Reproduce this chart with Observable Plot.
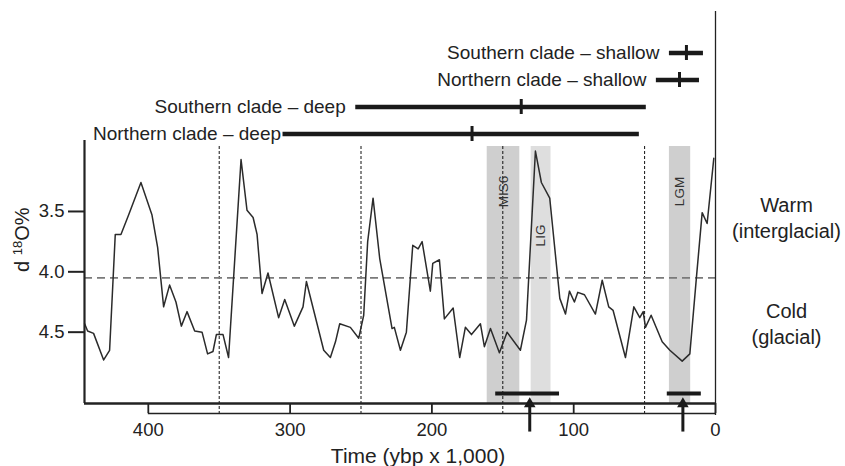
<!DOCTYPE html>
<html><head><meta charset="utf-8">
<script src="https://cdn.jsdelivr.net/npm/d3@7"></script>
<script src="https://cdn.jsdelivr.net/npm/@observablehq/plot@0.6"></script>
<style>
body{margin:0;background:#fff;}
#chart svg{display:block;}
</style></head><body><div id="chart"></div>
<script>
// d18O record (time in ka, value in per mil)
const time = [444.9,442.8,438.6,431.5,427.3,423.3,419.3,413.9,405.2,397.4,393.4,389.2,385.0,380.5,376.7,372.7,367.3,362.1,358.2,354.4,352.0,347.3,343.4,334.6,330.4,326.1,323.3,319.8,315.6,308.1,303.8,297.0,290.9,288.5,276.3,271.6,268.0,265.0,257.5,251.6,248.1,245.3,241.5,236.8,228.1,226.5,222.2,218.0,213.5,209.7,206.9,201.1,199.4,194.7,191.2,185.0,180.4,176.4,172.1,165.8,163.0,158.7,152.4,147.0,137.6,133.3,127.0,122.8,116.9,109.8,105.8,103.0,99.5,97.1,92.4,84.7,79.9,75.3,72.2,63.5,57.6,53.4,51.0,49.4,45.4,37.6,32.2,23.5,18.1,13.4,9.4,5.9,1.2];
const d18O = [4.43,4.49,4.51,4.73,4.65,3.69,3.69,3.53,3.26,3.53,3.80,4.29,4.11,4.25,4.45,4.33,4.49,4.50,4.68,4.66,4.52,4.52,4.71,3.07,3.49,3.55,3.69,4.18,4.01,4.38,4.23,4.45,4.29,4.08,4.65,4.71,4.58,4.43,4.46,4.55,4.36,3.75,3.39,3.89,4.47,4.46,4.65,4.50,3.78,3.81,3.75,4.16,3.93,3.90,4.39,4.30,4.71,4.46,4.52,4.43,4.62,4.47,4.67,4.50,4.65,4.40,3.00,3.26,3.39,4.22,4.35,4.16,4.25,4.17,4.19,4.35,4.07,4.29,4.32,4.71,4.29,4.38,4.33,4.46,4.36,4.58,4.65,4.74,4.68,4.04,3.51,3.60,3.06];

// clade divergence estimates
const cladeNames = ["Southern clade – shallow","Northern clade – shallow","Southern clade – deep","Northern clade – deep"];
const cladeOldest = [32.5, 41.7, 253.7, 305];
const cladeYoungest = [8.5, 11.3, 48.8, 53.7];
const cladeMean = [20.5, 25.4, 137, 171.7];

// shaded periods
const bandNames = ["MIS6","LIG","LGM"];
const bandStart = [161, 130, 32.5];
const bandEnd = [138, 116, 17.5];

// expansion estimates (bars with arrows at the bottom)
const expOldest = [155, 34];
const expYoungest = [110, 10];
const expPeak = [131, 23];

const xTicks = [400,300,200,100,0];
const yTicks = [3.5,4.0,4.5];
const dashedTimes = [350,250,150,50];
const threshold = 4.05;

const FONT = "'Liberation Sans', Arial, Helvetica, sans-serif";
const W = 845, ML = 84, MR = 130;
const xDomain = [445, 0];
const yDomain = [2.912, 5.091];
const INK = "#222";

const clades = cladeNames.map((name,i)=>({name, lo: cladeOldest[i], hi: cladeYoungest[i], mid: cladeMean[i]}));
const curve = time.map((t,i)=>({t, v: d18O[i]}));
const bands = bandNames.map((name,i)=>({name, x1: bandStart[i], x2: bandEnd[i], xm: (bandStart[i]+bandEnd[i])/2}));
const exps = expOldest.map((lo,i)=>({lo, hi: expYoungest[i], peak: expPeak[i]}));

const topPlot = Plot.plot({
  width: W, height: 140, marginLeft: ML, marginRight: MR, marginTop: 11, marginBottom: 0,
  style: {fontFamily: FONT, background: "white", color: INK, overflow: "visible"},
  x: {domain: xDomain, axis: null},
  y: {type: "band", domain: cladeNames, range: [38.5, 146.5], padding: 0, axis: null},
  marks: [
    Plot.ruleX([0], {stroke: INK, strokeWidth: 1.3, y1: null, y2: null}),
    Plot.ruleY(clades, {y: "name", x1: "lo", x2: "hi", stroke: "#1a1a1a", strokeWidth: 4.5}),
    Plot.tickX(clades, {x: "mid", y: "name", stroke: "#1a1a1a", strokeWidth: 3, insetTop: 6, insetBottom: 6}),
    Plot.text(clades.filter(d => d.name !== "Northern clade – deep"), {x: "lo", y: "name", text: "name", textAnchor: "end", dx: -10, fontSize: 19, fill: INK}),
    Plot.text(clades.filter(d => d.name === "Northern clade – deep"), {x: "lo", y: "name", text: "name", textAnchor: "end", dx: -2, fontSize: 19, fill: INK})
  ]
});

const yB = yDomain[1];
const mainPlot = Plot.plot({
  width: W, height: 326, marginLeft: ML, marginRight: MR, marginTop: 0, marginBottom: 63,
  style: {fontFamily: FONT, background: "white", color: INK, overflow: "visible"},
  x: {domain: xDomain},
  y: {domain: yDomain, reverse: true},
  marks: [
    Plot.rect(bands.filter(d => d.name !== "LIG"), {x1: "x1", x2: "x2", fill: "#cfcfcf", insetTop: 6}),
    Plot.rect(bands.filter(d => d.name === "LIG"), {x1: "x1", x2: "x2", fill: "#dedede", insetTop: 6}),
    Plot.ruleX(dashedTimes, {stroke: "#111", strokeWidth: 1, strokeDasharray: "3,2", insetTop: 6, insetBottom: -10}),
    Plot.ruleY([threshold], {stroke: "#7a7a7a", strokeWidth: 1.8, strokeDasharray: "8,5"}),
    Plot.line(curve, {x: "t", y: "v", stroke: "#2b2b2b", strokeWidth: 1.5}),
    Plot.text(bands.filter(d => d.name !== "LIG"), {x: "xm", text: "name", rotate: -90, frameAnchor: "top", lineAnchor: "middle", dy: 51, fontSize: 13.5, fill: "#333"}),
    Plot.text(bands.filter(d => d.name === "LIG"), {x: "xm", text: "name", rotate: -90, frameAnchor: "top", lineAnchor: "middle", dy: 95, fontSize: 13.5, fill: "#333"}),
    Plot.ruleX([xDomain[0]], {stroke: INK, strokeWidth: 2.2}),
    Plot.ruleY([yB], {stroke: INK, strokeWidth: 2.5}),
    Plot.ruleX([0], {stroke: INK, strokeWidth: 1.3, insetBottom: -12}),
    Plot.ruleY([yB], {x1: xTicks[0], x2: xTicks[xTicks.length - 1], dy: 10, stroke: INK, strokeWidth: 1.5}),
    Plot.axisX({ticks: xTicks, tickSize: 10, tickPadding: 9, fontSize: 18.5, strokeWidth: 1.8, label: null, tickFormat: d => String(d), fill: INK}),
    Plot.text(["Time (ybp x 1,000)"], {frameAnchor: "bottom", lineAnchor: "middle", dx: 18, dy: 53, fontSize: 21, fill: INK}),
    Plot.axisY({ticks: yTicks, tickSize: 16, tickPadding: 4, fontSize: 18.5, strokeWidth: 2, label: null, tickFormat: d => d.toFixed(1), fill: INK}),
    Plot.text(["d 18O%"], {frameAnchor: "left", dx: -62, rotate: -90, fontSize: 20, fill: INK}),
    Plot.text(["Warm\n(interglacial)"], {frameAnchor: "right", dx: 71, dy: -55.5, fontSize: 20, lineHeight: 1.3, textAnchor: "middle", fill: INK}),
    Plot.text(["Cold\n(glacial)"], {frameAnchor: "right", dx: 71, dy: 50.5, fontSize: 20, lineHeight: 1.3, textAnchor: "middle", fill: INK}),
    Plot.ruleY(exps, {y: () => yB, x1: "lo", x2: "hi", dy: -10, stroke: "#1a1a1a", strokeWidth: 4}),
    Plot.ruleX(exps, {x: "peak", y1: () => yB, y2: () => yB + 0.22, dy: 2, stroke: "#1a1a1a", strokeWidth: 3}),
    Plot.dot(exps, {x: "peak", y: () => yB, symbol: "triangle", r: 4.3, fill: "#1a1a1a", stroke: "none", dy: 0.5})
  ]
});

d3.select(mainPlot).selectAll("text").filter(function(){ return this.textContent === "d 18O%"; }).each(function(){
  const t = d3.select(this); t.text(null);
  t.append("tspan").text("d ");
  t.append("tspan").attr("font-size", "13px").attr("dy", "-7").text("18");
  t.append("tspan").attr("dy", "7").text("O%");
});

const host = document.getElementById("chart");
host.append(topPlot, mainPlot);
</script></body></html>
